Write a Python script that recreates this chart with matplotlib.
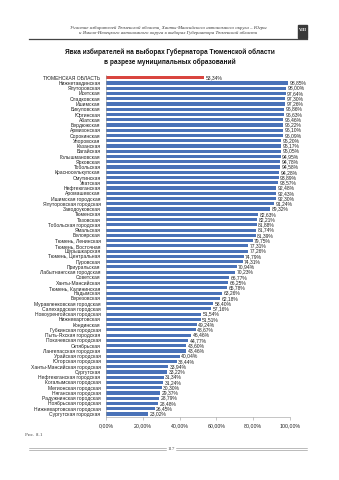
import matplotlib.pyplot as plt
from matplotlib.ticker import FuncFormatter
from matplotlib.patches import Rectangle
from matplotlib.lines import Line2D

# Явка по муниципальным образованиям, %
region_total = "ТЮМЕНСКАЯ ОБЛАСТЬ"
total_turnout = 53.34

districts = [
    "Нижнетавдинская", "Ялуторовская", "Исетская", "Сладковская", "Ишимская",
    "Викуловская", "Юргинская", "Абатская", "Бердюжская", "Армизонская",
    "Сорокинская", "Упоровская", "Казанская", "Вагайская", "Голышмановская",
    "Ярковская", "Тобольская", "Красноселькупская", "Омутинская", "Уватская",
    "Нефтеюганская", "Аромашевская", "Ишимская городская", "Ялуторовская городская",
    "Заводоуковская", "Тюменская", "Тазовская", "Тобольская городская", "Ямальская",
    "Белоярская", "Тюмень, Ленинская", "Тюмень, Восточная", "Шурышкарская",
    "Тюмень, Центральная", "Пуровская", "Приуральская", "Лабытнангская городская",
    "Советская", "Ханты-Мансийская", "Тюмень, Калининская", "Надымская",
    "Березовская", "Муравленковская городская", "Салехардская городская",
    "Новоуренгойская городская", "Нижневартовская", "Кондинская",
    "Губкинская городская", "Пыть-Яхская городская", "Покачевская городская",
    "Октябрьская", "Лангепасская городская", "Урайская городская",
    "Югорская городская", "Ханты-Мансийская городская", "Сургутская",
    "Нефтеюганская городская", "Когалымская городская", "Мегионская городская",
    "Няганская городская", "Радужнинская городская", "Ноябрьская городская",
    "Нижневартовская городская", "Сургутская городская",
]
turnout = [
    98.85, 98.00, 97.64, 97.30, 97.26, 96.86, 96.63, 96.46, 96.22, 96.10,
    96.09, 95.20, 95.17, 95.05, 94.95, 94.78, 94.58, 94.28, 93.89, 93.57,
    92.48, 92.43, 92.30, 91.24, 89.32, 82.63, 82.21, 81.88, 81.74, 81.39,
    79.75, 77.31, 77.26, 74.79, 74.31, 70.94, 70.23, 66.77, 66.25, 65.78,
    63.26, 62.18, 58.40, 57.16, 51.54, 51.51, 49.24, 48.67, 46.46, 44.77,
    43.60, 43.46, 40.04, 38.44, 33.94, 33.22, 31.34, 31.24, 30.30, 29.37,
    28.79, 28.48, 26.45, 23.02,
]
x_ticks = [0, 20, 40, 60, 80, 100]

labels = [region_total] + districts
values = [total_turnout] + turnout
colors = ["#d9453f"] + ["#4a72b8"] * len(turnout)

W, H = 339, 480
fig = plt.figure(figsize=(W / 100, H / 100), dpi=100)
fig.patch.set_facecolor("white")


def fx(px):
    return px / W


def fy(py):
    return 1 - py / H


sans = "Liberation Sans"
serif = "Liberation Serif"

# колонтитул
fig.text(fx(168), fy(28), "Участие избирателей Тюменской области, Ханты-Мансийского автономного округа – Югры",
         ha="center", va="center", fontsize=3.5, family=serif, style="italic", color="#333333")
fig.text(fx(168), fy(33), "и Ямало-Ненецкого автономного округа в выборах Губернатора Тюменской области",
         ha="center", va="center", fontsize=3.5, family=serif, style="italic", color="#333333")
fig.add_artist(Line2D([fx(29), fx(307)], [fy(38.5), fy(38.5)], color="#444444", lw=0.9))
fig.add_artist(Rectangle((fx(298), fy(37.5)), fx(9), 12 / H, color="#3a3a3a"))
fig.text(fx(302.5), fy(30), "VIII", ha="center", va="center", fontsize=3.2,
         family=serif, color="white", weight="bold")

# заголовок
fig.text(fx(170), fy(52), "Явка избирателей на выборах Губернатора Тюменской области",
         ha="center", va="center", fontsize=4.7, family=sans, weight="bold", color="#111111")
fig.text(fx(170), fy(62), "в разрезе муниципальных образований",
         ha="center", va="center", fontsize=4.7, family=sans, weight="bold", color="#111111")

# диаграмма
ax = fig.add_axes([fx(106), fy(416.6), fx(290) - fx(106), (416.6 - 75.1) / H])
pos = list(range(len(values)))
ax.barh(pos, values, height=0.6, color=colors, edgecolor="none")
for p, v in zip(pos, values):
    ax.text(v + 0.8, p, f"{v:.2f}%".replace(".", ","), va="center", ha="left",
            fontsize=3.6, family=sans, color="#222222")

ax.set_ylim(len(values) - 0.5, -0.5)
ax.set_xlim(0, 100)
ax.set_yticks(pos)
ax.set_yticklabels(labels, fontsize=3.6, family=sans, color="#222222")
ax.set_xticks(x_ticks)
ax.xaxis.set_major_formatter(FuncFormatter(lambda v, _: f"{v:.2f}%".replace(".", ",")))
for t in ax.get_xticklabels():
    t.set_fontsize(3.8)
    t.set_family(sans)
    t.set_color("#222222")
ax.tick_params(axis="y", length=0, pad=4)
ax.tick_params(axis="x", length=2, width=0.4, color="#999999", pad=3)
for side in ["top", "right"]:
    ax.spines[side].set_visible(False)
ax.spines["left"].set_color("#999999")
ax.spines["left"].set_linewidth(0.4)
ax.spines["bottom"].set_color("#999999")
ax.spines["bottom"].set_linewidth(0.4)

# подпись и номер страницы
fig.text(fx(25), fy(435), "Рис. 8.1", ha="left", va="center", fontsize=3.8,
         family=serif, color="#555555")
for yy in (448.3, 450.0):
    fig.add_artist(Line2D([fx(29), fx(166)], [fy(yy), fy(yy)], color="#888888", lw=0.4))
    fig.add_artist(Line2D([fx(176), fx(307)], [fy(yy), fy(yy)], color="#888888", lw=0.4))
fig.text(fx(171), fy(449.2), "117", ha="center", va="center", fontsize=3.6,
         family=serif, color="#555555")

fig.savefig("out.png", dpi=100, facecolor="white")
